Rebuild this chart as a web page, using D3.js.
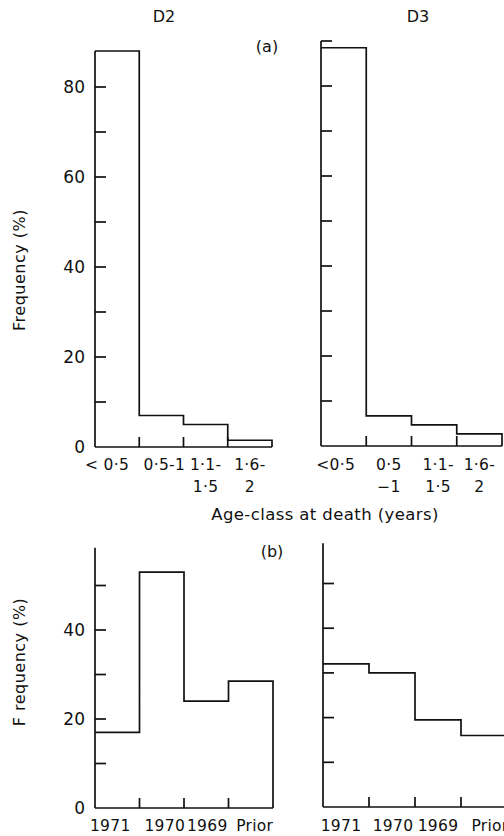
<!DOCTYPE html>
<html>
<head>
<meta charset="utf-8">
<script src="https://cdn.jsdelivr.net/npm/d3@7"></script>
<style>
  body { margin: 0; background: #fff; }
  svg { display: block; }
  text { font-family: "DejaVu Sans", sans-serif; fill: #111; }
  .step { fill: none; stroke: #111; stroke-width: 1.7; }
  .axis-line { stroke: #111; stroke-width: 1.7; fill: none; }
</style>
</head>
<body>
<svg id="chart" width="504" height="836"></svg>
<script>
// age-class at death, % of deaths
const AGE_CLASSES = ["<0·5", "0·5-1", "1·1-1·5", "1·6-2"];
const D2_AGE = [88, 7, 5, 1.5];
const D3_AGE = [88.5, 6.7, 4.7, 2.7];
const D2_AGE_LABELS = [["< 0·5"], ["0·5-1"], ["1·1-", "1·5"], ["1·6-", "2"]];
const D3_AGE_LABELS = [["<0·5"], ["0·5", "−1"], ["1·1-", "1·5"], ["1·6-", "2"]];

// year of birth
const YEARS = ["1971", "1970", "1969", "Prior"];
const D2_YEAR = [17, 53, 24, 28.5];
const D3_YEAR = [32, 30, 19.5, 16];
const YEAR_LABELS = YEARS.map(d => [d]);

const TICKS_A_D2 = [10, 20, 30, 40, 50, 60, 70, 80];
const TICKS_A_D3 = [10, 20, 30, 40, 50, 60, 70, 80, 90];
const TICKS_B = [10, 20, 30, 40, 50];
const LABELS_A = [0, 20, 40, 60, 80];
const LABELS_B = [0, 20, 40];

const svg = d3.select("#chart");

const panels = [
  { values: D2_AGE, labels: D2_AGE_LABELS, ticks: TICKS_A_D2, tickLabels: LABELS_A, axisTop: 88,
    x0: 95, x1: 272, base: 447, perUnit: 4.5, labelY: 470, labelDx: [-10, 3, 0, 0] },
  { values: D3_AGE, labels: D3_AGE_LABELS, ticks: TICKS_A_D3, tickLabels: null, axisTop: 90,
    x0: 321, x1: 502, base: 446, perUnit: 4.5, labelY: 470, labelDx: [-8, 0, 4, 0] },
  { values: D2_YEAR, labels: YEAR_LABELS, ticks: TICKS_B, tickLabels: LABELS_B, axisTop: 58.5,
    x0: 95, x1: 273, base: 808, perUnit: 4.45, labelY: 831, labelDx: [-7, 3, 1, 4] },
  { values: D3_YEAR, labels: YEAR_LABELS, ticks: TICKS_B, tickLabels: null, axisTop: 59,
    x0: 323, x1: 507, base: 807, perUnit: 4.47, labelY: 831, labelDx: [-5, 1, 0, 6] }
];

panels.forEach(drawPanel);

function drawPanel(p) {
  const n = p.values.length;
  const x = d3.scaleLinear().domain([0, n]).range([p.x0, p.x1]);
  const y = d3.scaleLinear().domain([0, 100]).range([p.base, p.base - 100 * p.perUnit]);
  const g = svg.append("g");

  // y axis line + inward ticks
  g.append("line").attr("class", "axis-line")
    .attr("x1", p.x0).attr("x2", p.x0)
    .attr("y1", y(0)).attr("y2", y(p.axisTop));
  g.selectAll(".ytick").data(p.ticks).join("line")
    .attr("class", "axis-line")
    .attr("x1", p.x0).attr("x2", p.x0 + 11)
    .attr("y1", d => y(d)).attr("y2", d => y(d));

  // baseline + ticks at inner bin edges
  g.append("line").attr("class", "axis-line")
    .attr("x1", p.x0).attr("x2", p.x1)
    .attr("y1", y(0)).attr("y2", y(0));
  g.selectAll(".xtick").data(d3.range(1, n)).join("line")
    .attr("class", "axis-line")
    .attr("x1", d => x(d)).attr("x2", d => x(d))
    .attr("y1", y(0)).attr("y2", y(0) - 10);

  // histogram outline
  const pts = p.values.map((v, i) => [i, v]);
  pts.push([n, p.values[n - 1]], [n, 0]);
  const line = d3.line().x(d => x(d[0])).y(d => y(d[1])).curve(d3.curveStepAfter);
  g.append("path").attr("class", "step").attr("d", line(pts));

  if (p.tickLabels) {
    g.selectAll(".ylab").data(p.tickLabels).join("text")
      .attr("x", p.x0 - 10).attr("y", d => y(d))
      .attr("dy", "0.35em")
      .attr("text-anchor", "end")
      .style("font-size", "17px")
      .text(d => d);
  }

  // category labels (one or two lines)
  p.labels.forEach((lines, i) => {
    const cx = x(i + 0.5) + p.labelDx[i];
    const t = g.append("text")
      .attr("x", cx)
      .attr("y", p.labelY)
      .attr("text-anchor", "middle")
      .style("font-size", "15.5px")
      .style("letter-spacing", "0.3px");
    lines.forEach((s, k) => {
      t.append("tspan").attr("x", cx).attr("dy", k ? 22 : 0).text(s);
    });
  });
}

// titles and annotations
const txt = (xp, yp, s, size, extra) => {
  const t = svg.append("text").attr("x", xp).attr("y", yp)
    .attr("text-anchor", "middle").style("font-size", size + "px").text(s);
  if (extra) extra(t);
  return t;
};
txt(164, 22, "D2", 16);
txt(418, 22, "D3", 16);
txt(267, 52, "(a)", 16);
txt(272, 557, "(b)", 16);
txt(325, 520, "Age-class at death (years)", 16.5).style("letter-spacing", "0.4px");
txt(0, 0, "Frequency (%)", 16, t => t.attr("transform", "translate(25,270) rotate(-90)").style("letter-spacing", "0.5px"));
txt(0, 0, "F requency (%)", 16, t => t.attr("transform", "translate(25,662) rotate(-90)").style("letter-spacing", "0.5px"));
</script>
</body>
</html>
